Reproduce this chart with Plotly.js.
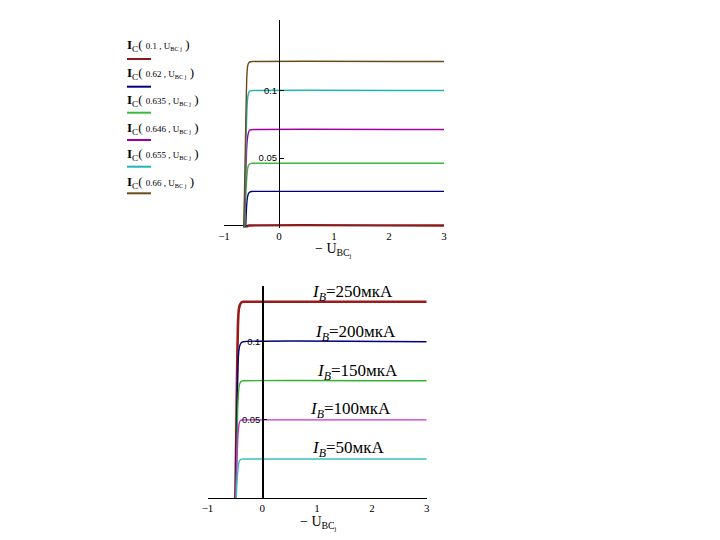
<!DOCTYPE html>
<html>
<head>
<meta charset="utf-8">
<script src="https://cdn.plot.ly/plotly-3.0.1.min.js"></script>
<style>html,body{margin:0;padding:0;background:#fff;}#chart{width:720px;height:540px;}</style>
</head>
<body>
<div id="chart"></div>
<script>
// ---------- Top chart data: I_C(U_BE, U_BC) vs -U_BC ----------
const topLegendArgs = ["0.1", "0.62", "0.635", "0.646", "0.655", "0.66"];
const topColors = ["#8b1a1a", "#00007f", "#3cba3c", "#a000a0", "#20b4b4", "#6b4a1a"];

const topX_010 = [-0.6, -0.57, -0.53, 3];
const topY_010 = [-0.01, -0.0003, 0, 0];
const topX_0620 = [-0.615, -0.595, -0.58, -0.565, -0.55, -0.53, -0.5, -0.46, 3];
const topY_0620 = [-0.01, 0.01, 0.019, 0.0225, 0.024, 0.0248, 0.0252, 0.0253, 0.0253];
const topX_0635 = [-0.63, -0.605, -0.585, -0.57, -0.555, -0.535, -0.505, -0.47, 3];
const topY_0635 = [-0.01, 0.02, 0.036, 0.042, 0.0445, 0.0455, 0.046, 0.0461, 0.0461];
const topX_0646 = [-0.635, -0.61, -0.59, -0.575, -0.56, -0.54, -0.51, -0.47, 3];
const topY_0646 = [-0.01, 0.03, 0.055, 0.064, 0.068, 0.0703, 0.0709, 0.0711, 0.0711];
const topX_0655 = [-0.64, -0.615, -0.595, -0.58, -0.565, -0.545, -0.52, -0.48, 3];
const topY_0655 = [-0.01, 0.035, 0.07, 0.088, 0.096, 0.099, 0.0998, 0.1, 0.1];
const topX_0660 = [-0.645, -0.62, -0.6, -0.585, -0.57, -0.55, -0.52, -0.48, 3];
const topY_0660 = [-0.01, 0.04, 0.085, 0.11, 0.118, 0.1205, 0.1213, 0.1215, 0.1215];

// ---------- Bottom chart data: I_C for I_B steps vs -U_BC ----------
const botLabels = ["250мкА", "200мкА", "150мкА", "100мкА", "50мкА"];
const botColors = ["#9b1b1b", "#00007f", "#33b033", "#c832c8", "#3cc0c0"];

const botX_250 = [-0.495, -0.475, -0.46, -0.445, -0.43, -0.41, -0.385, -0.35, -0.3, 3];
const botY_250 = [-0.01, 0.04, 0.08, 0.11, 0.12, 0.1235, 0.125, 0.1255, 0.1256, 0.1256];
const botX_200 = [-0.495, -0.47, -0.455, -0.44, -0.425, -0.405, -0.38, -0.35, 3];
const botY_200 = [-0.01, 0.04, 0.07, 0.088, 0.095, 0.098, 0.0995, 0.1, 0.1];
const botX_150 = [-0.49, -0.465, -0.45, -0.435, -0.42, -0.4, -0.375, -0.34, 3];
const botY_150 = [-0.01, 0.03, 0.055, 0.067, 0.072, 0.074, 0.0748, 0.075, 0.075];
const botX_100 = [-0.49, -0.465, -0.45, -0.435, -0.42, -0.4, -0.375, -0.34, 3];
const botY_100 = [-0.01, 0.02, 0.036, 0.044, 0.048, 0.0495, 0.0499, 0.05, 0.05];
const botX_50 = [-0.485, -0.465, -0.45, -0.435, -0.42, -0.4, -0.375, -0.34, 3];
const botY_50 = [-0.01, 0.008, 0.016, 0.021, 0.0235, 0.0245, 0.0249, 0.025, 0.025];

const xTickVals = [-1, 0, 1, 2, 3];
const xTickText = ["\u22121", "0", "1", "2", "3"];
const topYTicks = [0.05, 0.1];
const botYTicks = [0.05, 0.1];

// ---------- helpers (layout only) ----------
const W = 720, H = 540;
const px = v => v / W;
const py = v => 1 - v / H;

const topSeries = [[topX_010, topY_010], [topX_0620, topY_0620], [topX_0635, topY_0635],
                   [topX_0646, topY_0646], [topX_0655, topY_0655], [topX_0660, topY_0660]];
const botSeries = [[botX_250, botY_250], [botX_200, botY_200], [botX_150, botY_150],
                   [botX_100, botY_100], [botX_50, botY_50]];

const traces = [];
topSeries.forEach((s, i) => traces.push({
  x: s[0], y: s[1], xaxis: 'x', yaxis: 'y', mode: 'lines', type: 'scatter',
  line: {color: topColors[i], width: i === 0 ? 2.4 : 1.4, shape: 'spline', smoothing: 0.6},
  hoverinfo: 'skip', showlegend: false
}));
botSeries.forEach((s, i) => traces.push({
  x: s[0], y: s[1], xaxis: 'x2', yaxis: 'y2', mode: 'lines', type: 'scatter',
  line: {color: botColors[i], width: i === 0 ? 2.6 : 1.4, shape: 'spline', smoothing: 0.6},
  hoverinfo: 'skip', showlegend: false
}));

const xFont = {family: 'Liberation Serif, serif', size: 11, color: '#000'};
const yFont = {family: 'Liberation Sans, Arial, sans-serif', size: 9.5, color: '#000'};

// top: y = 0 at px 225.5, 1350 px per unit; a small negative margin keeps the zero line inside
const topYmin = -0.0015;
const topYmax = (225.5 - 20) / 1350;
const topBottomPx = 225.5 - topYmin * 1350;
const botYmax = (498 - 286) / 1563;

const annotations = [];
const shapes = [];

// top legend-like labels
const legTextY = [45, 73, 101, 128, 155, 182.7];
const legLineY = [59, 86.7, 112.7, 140, 166.7, 193.3];
topLegendArgs.forEach((a, i) => {
  annotations.push({
    xref: 'paper', yref: 'paper', x: px(125), y: py(legTextY[i]),
    xanchor: 'left', yanchor: 'middle', showarrow: false,
    text: "<b>I</b><sub>C</sub>( <span style='font-size:9px'>" + a + " , U<sub>BC j</sub></span> )",
    font: {family: 'Liberation Serif, serif', size: 13, color: '#000'}
  });
  shapes.push({type: 'line', xref: 'paper', yref: 'paper',
    x0: px(127), x1: px(151), y0: py(legLineY[i]), y1: py(legLineY[i]),
    line: {color: topColors[i], width: 2}});
});

// bottom curve labels
const botLabelX = [310, 313, 315, 308, 310];
const botLabelY = [293, 333, 372, 410, 449];
botLabels.forEach((t, i) => {
  annotations.push({
    xref: 'paper', yref: 'paper', x: px(botLabelX[i]), y: py(botLabelY[i]),
    xanchor: 'left', yanchor: 'middle', showarrow: false,
    text: "<i>I</i><sub><i>B</i></sub>=" + t,
    font: {family: 'Liberation Serif, serif', size: 17, color: '#000'}
  });
});

// axis titles
annotations.push({xref: 'paper', yref: 'paper', x: px(333), y: py(250),
  xanchor: 'center', yanchor: 'middle', showarrow: false,
  text: "\u2212 U<sub>BC<sub>j</sub></sub>",
  font: {family: 'Liberation Serif, serif', size: 14, color: '#000'}});
annotations.push({xref: 'paper', yref: 'paper', x: px(318), y: py(523),
  xanchor: 'center', yanchor: 'middle', showarrow: false,
  text: "\u2212 U<sub>BC<sub>j</sub></sub>",
  font: {family: 'Liberation Serif, serif', size: 14, color: '#000'}});

const layout = {
  width: W, height: H,
  margin: {l: 0, r: 0, t: 0, b: 0},
  paper_bgcolor: '#fff', plot_bgcolor: 'rgba(0,0,0,0)',
  showlegend: false,
  xaxis: {domain: [px(224), px(444)], range: [-1, 3], anchor: 'y',
    showline: false, showgrid: false, zeroline: false, ticks: '',
    tickvals: xTickVals, ticktext: xTickText, tickfont: xFont, fixedrange: true},
  yaxis: {domain: [py(topBottomPx), py(20)], range: [topYmin, topYmax], anchor: 'free', position: px(279),
    showline: true, linecolor: '#000', linewidth: 1.2, layer: 'above traces',
    showgrid: false, zeroline: true, zerolinecolor: '#000', zerolinewidth: 1,
    ticks: 'inside', ticklen: 4, tickcolor: '#000',
    tickvals: topYTicks, ticktext: ['0.05', '0.1'], tickfont: yFont, fixedrange: true},
  xaxis2: {domain: [px(207.5), px(426.7)], range: [-1, 3], anchor: 'y2',
    showline: true, linecolor: '#000', linewidth: 1, layer: 'below traces',
    showgrid: false, zeroline: false, ticks: '', tickvals: xTickVals, ticktext: xTickText,
    tickfont: xFont, fixedrange: true},
  yaxis2: {domain: [py(498), py(286)], range: [0, botYmax], anchor: 'free', position: px(262.3),
    showline: true, linecolor: '#000', linewidth: 1.2, layer: 'above traces',
    showgrid: false, zeroline: false, ticks: 'inside', ticklen: 3, tickcolor: '#000',
    tickvals: botYTicks, ticktext: ['0.05', '0.1'], tickfont: yFont, fixedrange: true},
  annotations: annotations,
  shapes: shapes
};

Plotly.newPlot('chart', traces, layout, {staticPlot: true, displayModeBar: false});
</script>
</body>
</html>
